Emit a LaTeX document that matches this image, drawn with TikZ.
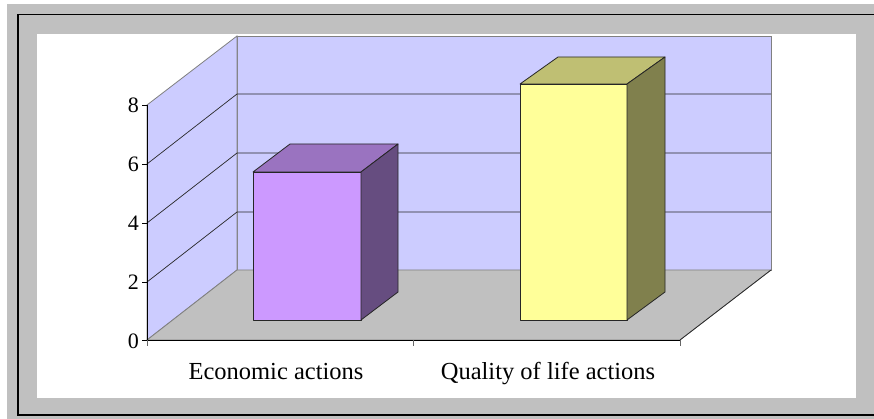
\documentclass[tikz,border=0pt]{standalone}
\usepackage{fontspec}
\setmainfont{Liberation Serif}
\definecolor{framegray}{HTML}{C0C0C0}
\definecolor{wallblue}{HTML}{CCCCFF}
\definecolor{edgegray}{HTML}{808080}
\definecolor{ecofront}{HTML}{CC99FF}
\definecolor{ecotop}{HTML}{9A73C0}
\definecolor{ecoside}{HTML}{664D80}
\definecolor{qolfront}{HTML}{FFFF99}
\definecolor{qoltop}{HTML}{BFBF73}
\definecolor{qolside}{HTML}{80804D}
\begin{document}
\begin{tikzpicture}[x=1pt,y=-1pt]
    \tikzstyle{wall}=[fill=wallblue, draw=edgegray, line width=0.8pt]
    \tikzstyle{floor}=[fill=framegray, draw=edgegray, line width=0.8pt]
    \tikzstyle{grid}=[draw=black!85, line width=0.7pt]
    \tikzstyle{barface}=[draw=black!85, line width=0.8pt, line join=round]
    \tikzstyle{ticklab}=[anchor=east, inner sep=0pt, font=\fontsize{22}{24}\selectfont]
    \tikzstyle{catlab}=[anchor=base, inner sep=0pt, font=\fontsize{24.5}{28}\selectfont]

    % frame
    \useasboundingbox (0,0) rectangle (874,419);
    \fill[white] (0,0) rectangle (874,419);
    \fill[framegray] (7,4) rectangle (874,419);
    \begin{scope}
      \clip (0,0) rectangle (874,419);
      \draw[line width=1.3pt] (18,14.5) rectangle (885,415);
    \end{scope}
    \fill[white] (37,34) rectangle (856,398);

    % walls and floor
    \path[wall] (237,36) rectangle (771,270);
    \path[wall] (147,340) -- (237,270) -- (237,36) -- (147,105) -- cycle;
    \path[floor] (147,340) -- (237,270) -- (771,270) -- (680,340) -- cycle;
    \draw[black!85, line width=0.7pt] (680,340) -- (771,270);

    % grid lines
    \draw[grid] (147,282) -- (237,212) -- (771,212);
    \draw[grid] (147,223) -- (237,153) -- (771,153);
    \draw[grid] (147,164) -- (237,94) -- (771,94);

    % axes
    \draw[black, line width=0.8pt] (147,105) -- (147,340) -- (680,340);
    \draw[black, line width=0.8pt] (142,105) -- (147,105) (142,164) -- (147,164)
      (142,223) -- (147,223) (142,282) -- (147,282) (142,340) -- (147,340);
    \draw[black!60, line width=0.8pt] (147,340) -- (147,346) (413,340) -- (413,346)
      (680,340) -- (680,346);

    \node[ticklab] (lab8) at (139,105) {8};
    \node[ticklab] (lab6) at (139,164) {6};
    \node[ticklab] (lab4) at (139,223) {4};
    \node[ticklab] (lab2) at (139,282) {2};
    \node[ticklab] (lab0) at (139,341) {0};

    % bar: economic actions
    \path[barface, fill=ecofront] (253,172) rectangle (361,320);
    \path[barface, fill=ecotop] (253,172) -- (290,144) -- (398,144) -- (361,172) -- cycle;
    \path[barface, fill=ecoside] (361,320) -- (398,292) -- (398,144) -- (361,172) -- cycle;

    % bar: quality of life actions
    \path[barface, fill=qolfront] (520,84) rectangle (627,320);
    \path[barface, fill=qoltop] (520,84) -- (558,57) -- (665,57) -- (627,84) -- cycle;
    \path[barface, fill=qolside] (627,320) -- (665,292) -- (665,57) -- (627,84) -- cycle;

    % categories
    \node[catlab] (eco) at (276,379) {Economic actions};
    \node[catlab] (qol) at (548,379) {Quality of life actions};
\end{tikzpicture}
\end{document}
